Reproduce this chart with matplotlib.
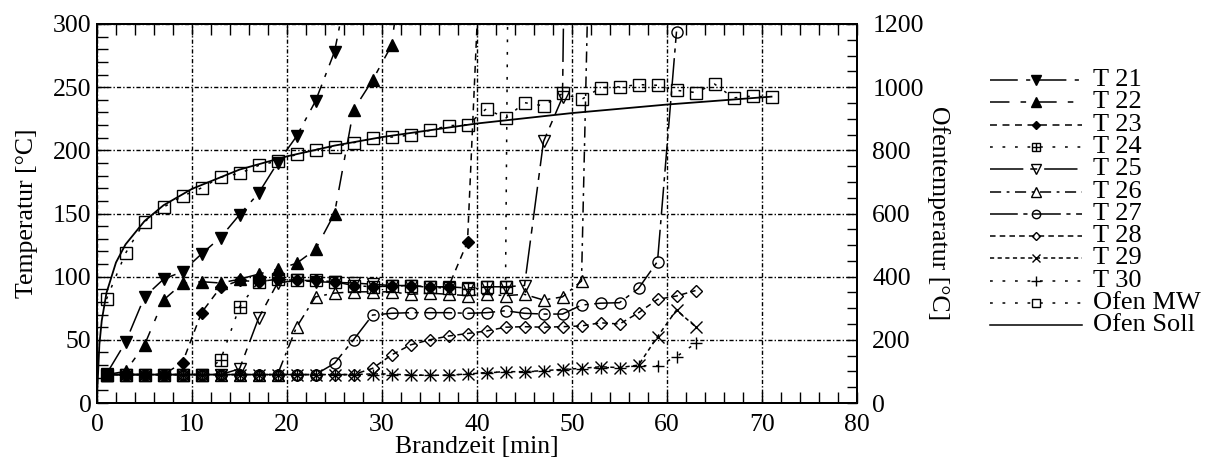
import numpy as np
import matplotlib
matplotlib.use('Agg')
import matplotlib.pyplot as plt
from matplotlib.ticker import MultipleLocator

plt.rcParams['font.family'] = ['Liberation Serif', 'DejaVu Serif']
plt.rcParams['font.size'] = 18.5
plt.rcParams['lines.scale_dashes'] = False

# Messstellen T21..T30, alle 2 min (letzter Wert jeweils oberhalb der Skala)
t21_x = list(range(1, 28, 2))
t21_y = [23, 48, 84, 98, 104, 118, 131, 149, 166, 190, 211, 239, 278, 354]
t22_x = list(range(1, 34, 2))
t22_y = [22.5, 25, 46, 81.5, 94.7, 96, 95, 98, 102, 106, 110.5, 121.6, 150, 232, 255.5, 283, 396]
t23_x = list(range(1, 42, 2))
t23_y = [22.5, 22.5, 22.5, 22.5, 32, 71.5, 91.5, 97, 96, 98, 97, 97, 96, 93, 92, 92.5, 93, 91.5, 92, 127.5, 470]
t24_x = list(range(1, 46, 2))
t24_y = [22.5, 22.5, 22.5, 22.5, 22.5, 22.5, 34, 76, 96, 98, 97, 97, 96, 93, 92, 92.5, 93, 91.5, 91, 90, 91.5, 91.5, 2000]
t25_x = list(range(1, 52, 2))
t25_y = [22.5, 22.5, 22.5, 22.5, 22.5, 22.5, 22.5, 27, 67, 95, 97, 96, 95.5, 95, 94, 93, 93, 92, 92, 91, 92, 92, 93,
         207, 242, 1400]
t26_x = list(range(1, 54, 2))
t26_y = [22.5, 22.5, 22.5, 22.5, 22.5, 22.5, 22.5, 22.5, 22.5, 22.5, 60, 84, 87, 88, 88, 88, 86, 87, 86, 85, 86, 85,
         86, 81.5, 84, 96.5, 770]
t27_x = list(range(1, 62, 2))
t27_y = [22.5, 22.5, 22.5, 22.5, 22.5, 22.5, 22.5, 22.5, 22.5, 22.5, 22.5, 22.5, 31.4, 50, 69.6, 71, 71.5, 71.5,
         71.5, 71, 71.5, 73, 71, 70.4, 70.4, 77.5, 79, 79.4, 90.7, 112, 294]
t28_x = list(range(1, 64, 2))
t28_y = [22.5, 22.5, 22.5, 22.5, 22.5, 22.5, 22.5, 22.5, 22.5, 22.5, 22.5, 22.5, 22.5, 22.5, 27.4, 38, 46, 50,
         53, 55, 57, 60, 60.4, 60, 60.4, 61, 63.5, 62.5, 71.4, 82, 84.7, 89]
t29_x = list(range(1, 64, 2))
t29_y = [22.5, 22.5, 22.5, 22.5, 22.5, 22.5, 22.5, 22.5, 22.5, 22.5, 22.5, 22.5, 22.5, 22.5, 23, 23, 22, 22,
         22, 23, 24, 24.8, 24.8, 25.6, 26.6, 27.4, 28.7, 28, 30, 52.5, 73.6, 60.4]
t30_x = list(range(1, 64, 2))
t30_y = [22.5, 22.5, 22.5, 22.5, 22.5, 22.5, 22.5, 22.5, 22.5, 22.5, 22.5, 22.5, 22.5, 22.5, 22.5, 22.5, 22,
         22, 22, 23, 24, 24.5, 24.5, 25.5, 26.5, 27, 28, 28, 29.5, 29.5, 36.7, 47.2]

# Ofen (rechte Achse)
ofen_mw_x = list(range(1, 72, 2))
ofen_mw_y = [329, 474, 574, 620, 655, 681, 715, 727, 752, 766, 787, 802, 811, 824, 838, 842, 848, 863, 878, 881,
             932, 901, 951, 941, 980, 961, 998, 1001, 1008, 1006, 990, 983, 1010, 966, 972, 968]
ofen_soll_x = [0, 0.25, 0.5, 1, 2, 3, 5, 7, 10, 15, 20, 25, 30, 40, 50, 60, 71]
ofen_soll_y = [20, 185, 261, 349, 445, 502, 576, 626, 678, 739, 781, 815, 842, 885, 918, 945, 970]

labels = ['T 21', 'T 22', 'T 23', 'T 24', 'T 25', 'T 26', 'T 27', 'T 28', 'T 29', 'T 30', 'Ofen MW', 'Ofen Soll']

# Linienstile / Symbole
styles = [
    dict(ls=(0, (20, 6, 3, 6)), marker='v', ms=9, mfc='black'),
    dict(ls=(0, (14, 8, 4, 8)), marker='^', ms=9, mfc='black'),
    dict(ls=(0, (5, 4)), marker='D', ms=6, mfc='black'),
    dict(ls=(0, (2, 7)), marker='s', ms=8, mfc='none'),
    dict(ls=(0, (24, 5, 5, 5)), marker='v', ms=9, mfc='none'),
    dict(ls=(0, (8, 4, 2, 4)), marker='^', ms=9, mfc='none'),
    dict(ls=(0, (20, 4, 3, 4)), marker='o', ms=8, mfc='none'),
    dict(ls=(0, (4, 3)), marker='D', ms=6, mfc='none'),
    dict(ls=(0, (3, 2.5)), marker='x', ms=8, mfc='none'),
    dict(ls=(0, (2, 7)), marker='+', ms=9, mfc='none'),
    dict(ls=(0, (2, 7)), marker='s', ms=8, mfc='none'),
    dict(ls='-', marker='None', ms=0, mfc='none'),
]

fig = plt.figure(figsize=(12.06, 4.62), dpi=100)
ax = fig.add_axes([97 / 1206, 1 - 403 / 462, 760 / 1206, 379 / 462])
ax2 = ax.twinx()

series = [(t21_x, t21_y), (t22_x, t22_y), (t23_x, t23_y), (t24_x, t24_y), (t25_x, t25_y),
          (t26_x, t26_y), (t27_x, t27_y), (t28_x, t28_y), (t29_x, t29_y), (t30_x, t30_y)]

for i, (x, y) in enumerate(series):
    s = styles[i]
    ax.plot(x, y, color='black', lw=1.1, linestyle=s['ls'], marker=s['marker'], ms=s['ms'],
            mfc=s['mfc'], mec='black', mew=1.0)
    if i == 3:  # Quadrat mit Kreuz
        ax.plot(x, y, color='black', lw=0, marker='+', ms=8, mew=1.0)

ax2.plot(ofen_mw_x, ofen_mw_y, color='black', lw=1.1, linestyle=styles[10]['ls'], marker='s', ms=8,
         mfc='none', mec='black', mew=1.0)
ax2.plot(ofen_soll_x, ofen_soll_y, color='black', lw=1.3, linestyle='-')

ax.set_xlim(0, 80)
ax.set_ylim(0, 300)
ax2.set_ylim(0, 1200)
ax.xaxis.set_major_locator(MultipleLocator(10))
ax.xaxis.set_minor_locator(MultipleLocator(2))
ax.yaxis.set_major_locator(MultipleLocator(50))
ax.yaxis.set_minor_locator(MultipleLocator(10))
ax2.yaxis.set_major_locator(MultipleLocator(200))
ax2.yaxis.set_minor_locator(MultipleLocator(50))

ax.grid(True, which='major', color='black', linestyle=(0, (3, 1.5, 1, 1.5)), linewidth=1.0)
ax.tick_params(which='both', direction='in', top=True, right=False, length=8, width=1)
ax.tick_params(axis='y', pad=4)
ax.tick_params(axis='x', pad=8)
ax2.tick_params(which='both', direction='in', length=7, width=1, pad=11)
for sp in list(ax.spines.values()) + list(ax2.spines.values()):
    sp.set_linewidth(1.4)

ax.set_xlabel('Brandzeit [min]', labelpad=0)
ax.set_ylabel('Temperatur [°C]', labelpad=11)
ax2.set_ylabel('Ofentemperatur [°C]', rotation=270, labelpad=2, va='bottom')

# Legende
lax = fig.add_axes([0, 0, 1, 1])
lax.set_xlim(0, 1206)
lax.set_ylim(462, 0)
lax.axis('off')
for i, lab in enumerate(labels):
    yy = 80 + i * 22.3
    s = styles[i]
    lax.plot([990, 1082], [yy, yy], color='black', lw=1.1, linestyle=s['ls'])
    if s['marker'] != 'None':
        lax.plot([1036], [yy], color='black', marker=s['marker'], ms=s['ms'] * 0.75, mfc=s['mfc'],
                 mec='black', mew=1.0)
        if i == 3:
            lax.plot([1036], [yy], color='black', marker='+', ms=6, mew=1.0)
    lax.text(1093, yy, lab, va='center', ha='left', fontsize=19)

fig.savefig('out.png', dpi=100)
